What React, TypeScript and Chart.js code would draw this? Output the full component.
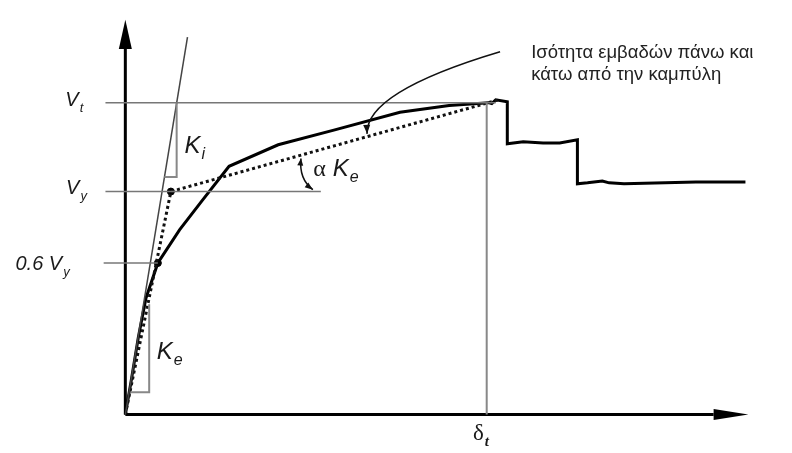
import React, { useEffect, useRef } from "react";
import { Chart, registerables } from "chart.js";

Chart.register(...registerables);

// Axis ranges (δ in % of δt, V in % of Vt)
const X_MIN = -33.3;
const X_MAX = 183.1;
const Y_MIN = -10.7;
const Y_MAX = 131.3;

// Capacity (pushover) curve
const curveDelta = [0, 1.6, 3.6, 5.7, 9.0, 15.0, 21.3, 28.7, 42.3, 57.7, 76.0, 89.6, 100.5, 101.4, 102.5, 105.7, 105.7, 110.1, 115.6, 120.2, 125.1, 125.1, 127.9, 132.0, 133.9, 138.0, 157.9, 171.6];
const curveV = [0, 10.7, 24.8, 37.3, 48.6, 59.2, 68.7, 79.6, 86.5, 91.2, 96.9, 99.1, 100.0, 99.7, 100.9, 100.3, 86.8, 87.5, 87.1, 87.1, 88.1, 74.0, 74.3, 74.9, 74.3, 74.0, 74.6, 74.6];

// Idealized bilinear (dotted)
const bilinDelta = [0, 12.6, 103.3];
const bilinV = [0, 71.5, 100.9];

// Initial stiffness Ki line
const kiDelta = [0, 17.2];
const kiV = [0, 121.0];

// Reference levels
const deltaT = 100;
const vT = 100;
const vY = 71.5;
const v06 = 48.6;
const vtLineDelta = [-5.5, 102.5];
const vyLineDelta = [-5.5, 54.1];
const v06LineDelta = [-6.0, 9.0];

// Stiffness triangles
const kiTriDelta = [10.8, 14.2, 14.2];
const kiTriV = [76.2, 76.2, 100];
const keTriDelta = [1.4, 6.6, 6.6];
const keTriV = [7.2, 7.2, 35.4];

// Marked points
const markDelta = [12.6, 9.0];
const markV = [71.5, 48.6];

// Axes ends
const axisYTop = 126.6;
const axisYBase = 117.2;
const axisXEnd = 172.4;
const axisXBase = 162.8;

// Leader arrow (start, control, end)
const leaderDelta = [103.7, 66.4, 66.9];
const leaderV = [116.3, 103.4, 90.0];

// αKe angle arrow (start, control, end)
const angleDelta = [48.6, 48.0, 51.9];
const angleV = [82.1, 75.5, 72.1];

// Labels
const labelMain = ["V", "V", "0.6 V", "K", "α", "K", "K", "δ"];
const labelSub = ["t", "y", "y", "i", "", "e", "e", "t"];
const labelDelta = [-16.6, -16.4, -30.4, 16.4, 52.0, 57.4, 8.7, 96.2];
const labelV = [98.8, 70.8, 46.4, 83.7, 76.5, 76.5, 17.9, -8.2];
const labelSize = [20, 20, 20, 24, 24, 24, 24, 23];
const labelSerif = [false, false, false, false, true, false, false, true];

const noteLines = ["Ισότητα εμβαδών πάνω και", "κάτω από την καμπύλη"];
const noteDelta = 112.3;
const noteV = [114.4, 107.2];

const pts = (xs: number[], ys: number[]) => xs.map((x, i) => ({ x, y: ys[i] }));

function arrowHead(ctx: CanvasRenderingContext2D, tx: number, ty: number, ang: number, len: number, hw: number) {
  const bx = tx - len * Math.cos(ang);
  const by = ty - len * Math.sin(ang);
  const nx = -Math.sin(ang);
  const ny = Math.cos(ang);
  ctx.beginPath();
  ctx.moveTo(tx, ty);
  ctx.lineTo(bx + nx * hw, by + ny * hw);
  ctx.lineTo(bx - nx * hw, by - ny * hw);
  ctx.closePath();
  ctx.fill();
}

const annotPlugin = {
  id: "annot",
  afterDatasetsDraw(chart: any) {
    const { ctx, scales } = chart;
    const px = (v: number) => scales.x.getPixelForValue(v);
    const py = (v: number) => scales.y.getPixelForValue(v);
    ctx.save();
    ctx.fillStyle = "#000";
    // axis arrowheads
    arrowHead(ctx, px(0), py(axisYTop), -Math.PI / 2, py(axisYBase) - py(axisYTop), 6.5);
    arrowHead(ctx, px(axisXEnd), py(0), 0, px(axisXEnd) - px(axisXBase), 5.5);

    // leader arrow
    const l = leaderDelta.map((d, i) => [px(d), py(leaderV[i])]);
    ctx.strokeStyle = "#111";
    ctx.lineWidth = 1.6;
    ctx.beginPath();
    ctx.moveTo(l[0][0], l[0][1]);
    ctx.quadraticCurveTo(l[1][0], l[1][1], l[2][0], l[2][1]);
    ctx.stroke();
    ctx.fillStyle = "#111";
    arrowHead(ctx, l[2][0], l[2][1], Math.atan2(l[2][1] - l[1][1], l[2][0] - l[1][0]), 9, 3.5);

    // angle arrow
    const a = angleDelta.map((d, i) => [px(d), py(angleV[i])]);
    ctx.lineWidth = 1.5;
    ctx.beginPath();
    ctx.moveTo(a[0][0], a[0][1]);
    ctx.quadraticCurveTo(a[1][0], a[1][1], a[2][0], a[2][1]);
    ctx.stroke();
    arrowHead(ctx, a[2][0], a[2][1], Math.atan2(a[2][1] - a[1][1], a[2][0] - a[1][0]), 8, 3);
    arrowHead(ctx, a[0][0], a[0][1], Math.atan2(a[0][1] - a[1][1], a[0][0] - a[1][0]), 7, 3);

    // labels
    ctx.fillStyle = "#1a1a1a";
    ctx.textBaseline = "alphabetic";
    ctx.textAlign = "left";
    labelMain.forEach((m, i) => {
      const serif = labelSerif[i];
      const x0 = px(labelDelta[i]);
      const y0 = py(labelV[i]);
      const size = labelSize[i];
      ctx.font = serif ? `${size}px "Liberation Serif"` : `italic ${size}px "Liberation Sans"`;
      ctx.fillText(m, x0, y0);
      const w = ctx.measureText(m).width;
      if (labelSub[i]) {
        ctx.font = serif ? `italic bold 15px "Liberation Serif"` : `italic ${Math.round(size * 0.65)}px "Liberation Sans"`;
        ctx.fillText(labelSub[i], x0 + w + 1, y0 + 6);
      }
    });

    // note
    ctx.font = `18.5px "Liberation Sans"`;
    ctx.fillStyle = "#222";
    noteLines.forEach((t, i) => ctx.fillText(t, px(noteDelta), py(noteV[i])));
    ctx.restore();
  },
};

export default function App() {
  const ref = useRef<HTMLCanvasElement | null>(null);
  useEffect(() => {
    if (!ref.current) return;
    const gray = "#777";
    const line = (data: any[], color: string, width: number, extra: any = {}) => ({
      type: "line",
      data,
      borderColor: color,
      backgroundColor: color,
      borderWidth: width,
      pointRadius: 0,
      tension: 0,
      fill: false,
      ...extra,
    });
    const chart = new Chart(ref.current, {
      type: "line",
      data: {
        datasets: [
          line(pts(vtLineDelta, [vT, vT]), gray, 1.5),
          line(pts(vyLineDelta, [vY, vY]), gray, 1.5),
          line(pts(v06LineDelta, [v06, v06]), gray, 1.5),
          line(pts([deltaT, deltaT], [0, vT]), "#888", 2),
          line(pts(kiTriDelta, kiTriV), "#888", 2),
          line(pts(keTriDelta, keTriV), "#888", 2),
          line(pts(kiDelta, kiV), "#444", 1.5),
          line(pts([0, 0], [0, axisYBase]), "#000", 3),
          line(pts([0, axisXBase], [0, 0]), "#000", 3),
          line(pts(bilinDelta, bilinV), "#111", 3, { borderDash: [3, 3] }),
          line(pts(curveDelta, curveV), "#000", 3, { borderJoinStyle: "miter" }),
          {
            type: "line",
            data: pts(markDelta, markV),
            showLine: false,
            pointRadius: 3.5,
            pointBackgroundColor: "#000",
            pointBorderColor: "#000",
          },
        ] as any,
      },
      options: {
        animation: false,
        responsive: false,
        maintainAspectRatio: false,
        layout: { padding: 0 },
        plugins: { legend: { display: false }, tooltip: { enabled: false } },
        events: [],
        scales: {
          x: { type: "linear", min: X_MIN, max: X_MAX, display: false },
          y: { type: "linear", min: Y_MIN, max: Y_MAX, display: false },
        },
      },
      plugins: [annotPlugin],
    });
    return () => chart.destroy();
  }, []);
  return (
    <div style={{ position: "fixed", left: 0, top: 0, width: 792, height: 453, background: "#fff" }}>
      <canvas ref={ref} width={792} height={453} style={{ display: "block" }} />
    </div>
  );
}
